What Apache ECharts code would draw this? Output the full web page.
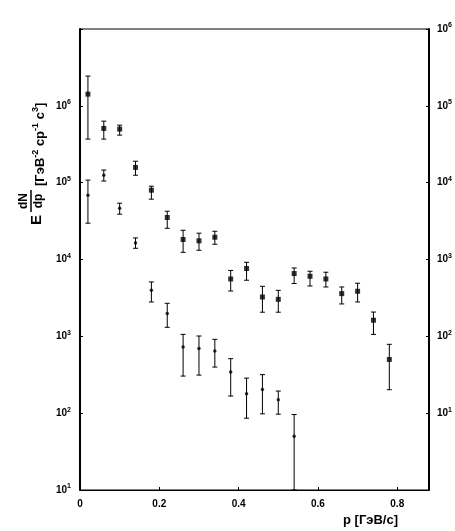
<!DOCTYPE html>
<html>
<head>
<meta charset="utf-8">
<script src="https://cdn.jsdelivr.net/npm/echarts@6/dist/echarts.min.js"></script>
<style>
html,body{margin:0;padding:0;background:#fff;}
#chart{width:455px;height:531px;}
</style>
</head>
<body>
<div id="chart"></div>
<script>
// Momentum bins (p, GeV/c)
const pUpper = [0.02,0.06,0.10,0.14,0.18,0.22,0.26,0.30,0.34,0.38,0.42,0.46,0.50,0.54,0.58,0.62,0.66,0.70,0.74,0.78];
// Upper series (left axis)
const upperVal  = [1.42e6,5.08e5,4.98e5,1.58e5,7.98e4,3.52e4,1.82e4,1.75e4,1.95e4,5.58e3,7.63e3,3.25e3,3.03e3,6.56e3,6.05e3,5.58e3,3.60e3,3.86e3,1.62e3,500];
const upperLow  = [3.69e5,3.69e5,4.16e5,1.25e5,6.10e4,2.55e4,1.24e4,1.32e4,1.58e4,3.89e3,5.37e3,2.06e3,2.06e3,4.87e3,4.52e3,4.39e3,2.64e3,2.80e3,1.06e3,202];
const upperHigh = [2.44e6,6.32e5,5.60e5,1.90e5,9.00e4,4.25e4,2.40e4,2.20e4,2.33e4,7.20e3,9.20e3,4.48e3,3.97e3,7.76e3,7.03e3,6.83e3,4.39e3,4.91e3,2.07e3,787];
// Lower series (right axis)
const pLower = [0.02,0.06,0.10,0.14,0.18,0.22,0.26,0.30,0.34,0.38,0.42,0.46,0.50,0.54];
const lowerVal  = [6870,12500,4660,1640,397,198,72.6,69.2,64.4,34.3,17.9,20.4,15.0,5.0];
const lowerLow  = [2970,10500,3890,1400,280,131,30.4,31.3,39.8,16.7,8.6,9.8,9.7,1.0];
const lowerHigh = [10800,14600,5410,1910,510,269,106,101,91.4,51.2,28.6,31.7,19.4,9.6];

const xTicks = [0,0.2,0.4,0.6,0.8];

const FONT = 'Liberation Sans';

function errItem(params, api){
  const x = api.value(0), lo = api.value(1), hi = api.value(2);
  const a = api.coord([x, lo]);
  const b = api.coord([x, hi]);
  const w = 2.5;
  const st = {stroke:'#000', lineWidth:1};
  return {type:'group', children:[
    {type:'line', shape:{x1:a[0],y1:a[1],x2:b[0],y2:b[1]}, style:st},
    {type:'line', shape:{x1:a[0]-w,y1:a[1],x2:a[0]+w,y2:a[1]}, style:st},
    {type:'line', shape:{x1:b[0]-w,y1:b[1],x2:b[0]+w,y2:b[1]}, style:st}
  ]};
}

const upperErr = pUpper.map((p,i)=>[p, upperLow[i], upperHigh[i]]);
const lowerErr = pLower.map((p,i)=>[p, lowerLow[i], lowerHigh[i]]);
const upperPts = pUpper.map((p,i)=>[p, upperVal[i]]);
const lowerPts = pLower.map((p,i)=>[p, lowerVal[i]]);

function powLabel(maxExp, minExp){
  return function(v){
    const e = Math.round(Math.log10(v));
    if (e > maxExp || e < minExp) return '';
    return '{b|10}{s|' + e + '}';
  };
}
const powRich = {
  b:{fontSize:10, fontWeight:'bold', fontFamily:FONT, color:'#000', lineHeight:14},
  s:{fontSize:7, fontWeight:'bold', fontFamily:FONT, color:'#000', lineHeight:7, verticalAlign:'top'}
};

const chart = echarts.init(document.getElementById('chart'), null, {renderer:'canvas'});
chart.setOption({
  animation:false,
  backgroundColor:'#fff',
  grid:{left:80, right:26, top:29, bottom:41, show:true, borderColor:'#000', borderWidth:1},
  xAxis:{
    type:'value', min:0, max:0.88, interval:0.2,
    axisLine:{show:true, lineStyle:{color:'#000', width:1}},
    axisTick:{show:true, inside:true, length:3, lineStyle:{color:'#000'}},
    splitLine:{show:false},
    axisLabel:{margin:9, fontSize:10, fontWeight:'bold', fontFamily:FONT, color:'#000',
      formatter:function(v){
        for (const t of xTicks){ if (Math.abs(v-t)<1e-6) return String(t); }
        return '';
      }}
  },
  yAxis:[{
    type:'log', logBase:10, min:10, max:1e7, position:'left',
    axisLine:{show:true, lineStyle:{color:'#000', width:2}},
    axisTick:{show:true, inside:true, length:3, lineStyle:{color:'#000'}},
    minorTick:{show:false},
    splitLine:{show:false},
    axisLabel:{margin:9, formatter:powLabel(6,1), rich:powRich}
  },{
    type:'log', logBase:10, min:1, max:1e6, position:'right',
    axisLine:{show:true, lineStyle:{color:'#000', width:2}},
    axisTick:{show:true, inside:true, length:3, lineStyle:{color:'#000'}},
    splitLine:{show:false},
    axisLabel:{margin:8, formatter:powLabel(6,1), rich:powRich}
  }],
  series:[
    {type:'custom', xAxisIndex:0, yAxisIndex:0, renderItem:errItem, data:upperErr, clip:true, z:2},
    {type:'custom', xAxisIndex:0, yAxisIndex:1, renderItem:errItem, data:lowerErr, clip:true, z:2},
    {type:'scatter', xAxisIndex:0, yAxisIndex:0, data:upperPts, symbol:'rect', symbolSize:5,
      itemStyle:{color:'#000'}, z:3},
    {type:'scatter', xAxisIndex:0, yAxisIndex:1, data:lowerPts, symbol:'circle', symbolSize:3.5,
      itemStyle:{color:'#000'}, z:3}
  ],
  graphic:[
    {type:'group', x:40, y:225, rotation:Math.PI/2, children:[
      {type:'text', x:0, y:-3, style:{text:'E', fontSize:15, fontWeight:'bold', fontFamily:FONT, fill:'#000',
        align:'left', verticalAlign:'middle', textAlign:'left', textVerticalAlign:'middle'}},
      {type:'text', x:24, y:-16, style:{text:'dN', fontSize:12, fontWeight:'bold', fontFamily:FONT, fill:'#000',
        align:'center', verticalAlign:'middle', textAlign:'center', textVerticalAlign:'middle'}},
      {type:'line', shape:{x1:13, y1:-9, x2:35, y2:-9}, style:{stroke:'#000', lineWidth:1.5}},
      {type:'text', x:24, y:-1, style:{text:'dp', fontSize:12, fontWeight:'bold', fontFamily:FONT, fill:'#000',
        align:'center', verticalAlign:'middle', textAlign:'center', textVerticalAlign:'middle'}},
      {type:'text', x:39, y:0, style:{
        text:'{m|[ГэВ}{s|-2}{m| ср}{s|-1}{m| с}{s|3}{m|]}',
        align:'left', verticalAlign:'middle', textAlign:'left', textVerticalAlign:'middle',
        rich:{
          m:{fontSize:13, fontWeight:'bold', fontFamily:FONT, fill:'#000', color:'#000', lineHeight:17},
          s:{fontSize:9, fontWeight:'bold', fontFamily:FONT, fill:'#000', color:'#000', lineHeight:9, verticalAlign:'top'}
        }}}
    ]},
    {type:'text', left:343, top:514, style:{text:'p [ГэВ/c]', fontSize:13, fontWeight:'bold', fontFamily:FONT, fill:'#000'}}
  ]
});
</script>
</body>
</html>
